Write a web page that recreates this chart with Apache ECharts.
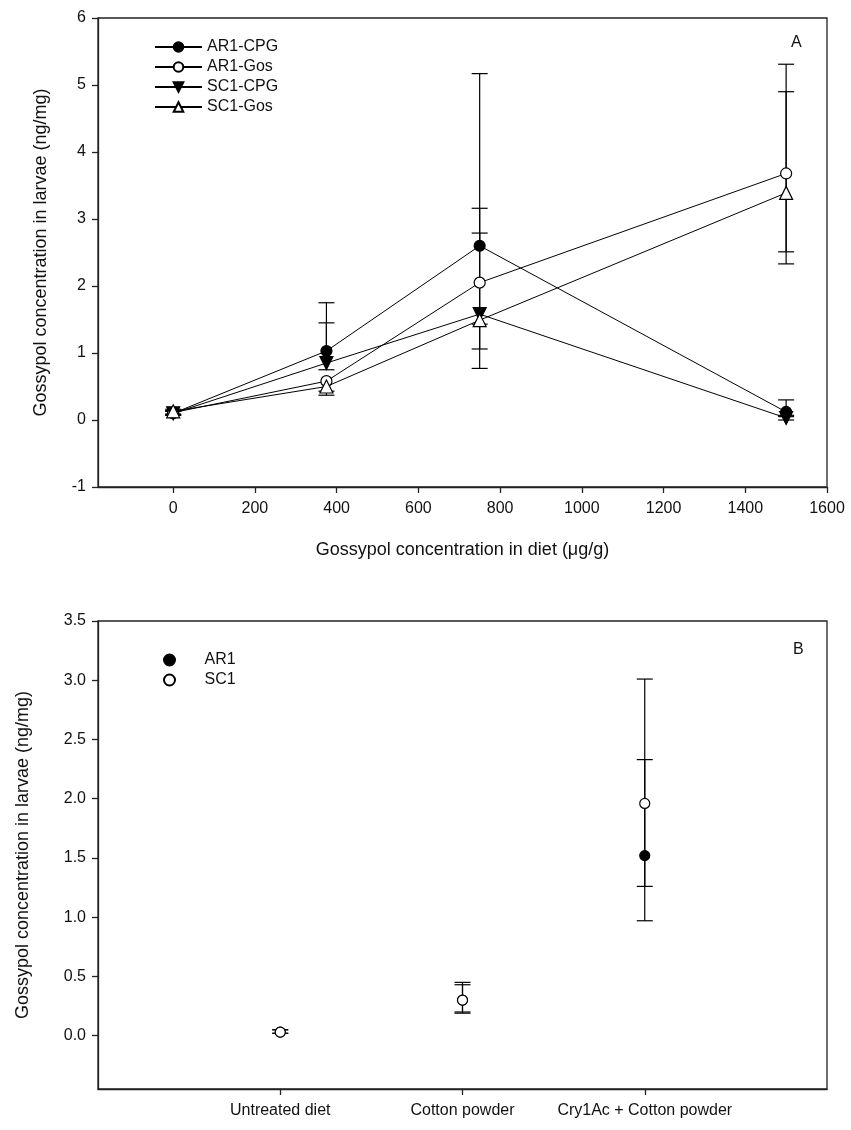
<!DOCTYPE html>
<html>
<head>
<meta charset="utf-8">
<script src="https://cdn.jsdelivr.net/npm/echarts@6/dist/echarts.min.js"></script>
<style>
  html, body { margin: 0; padding: 0; background: #fff; }
  #chart { width: 851px; height: 1130px; }
</style>
</head>
<body>
<div id="chart"></div>
<script>
// Panel A: gossypol in diet (µg/g) vs gossypol in larvae (ng/mg)
const dietX = [0, 375, 750, 1500];
const ar1Cpg = [0.10, 1.03, 2.60, 0.12];
const ar1Gos = [0.11, 0.58, 2.05, 3.68];
const sc1Cpg = [0.10, 0.85, 1.58, 0.03];
const sc1Gos = [0.13, 0.50, 1.49, 3.39];
// lower / upper ends of the error bars
const ar1CpgLow  = [0.07, 0.75, 2.60, 0.05];
const ar1CpgHigh = [0.13, 1.75, 5.17, 0.30];
const ar1GosLow  = [0.08, 0.43, 1.06, 2.51];
const ar1GosHigh = [0.14, 0.58, 3.16, 4.90];
const sc1CpgLow  = [0.07, 0.85, 1.43, 0.00];
const sc1CpgHigh = [0.13, 1.45, 2.79, 0.07];
const sc1GosLow  = [0.09, 0.37, 0.77, 2.33];
const sc1GosHigh = [0.16, 0.50, 1.49, 5.31];
const xTicksA = [0, 200, 400, 600, 800, 1000, 1200, 1400, 1600];

// Panel B: diet treatments
const treatments = ['Untreated diet', 'Cotton powder', 'Cry1Ac + Cotton powder'];
const treatPos = [1, 2, 3];
const ar1B = [0.03, 0.30, 1.52];
const sc1B = [0.03, 0.30, 1.96];
const ar1BLow  = [0.02, 0.20, 1.26];
const ar1BHigh = [0.05, 0.43, 2.33];
const sc1BLow  = [0.02, 0.19, 0.97];
const sc1BHigh = [0.05, 0.45, 3.01];
const yTicksB = [0, 0.5, 1, 1.5, 2, 2.5, 3, 3.5];

const FONT = 'Liberation Sans, Arial, sans-serif';
const INK = '#000';
const AXIS = '#222';

function errRows(xs, ys, lo, hi) {
  return xs.map((x, i) => [x, ys[i], lo[i], hi[i]]);
}

function errorBarRender(params, api) {
  const x = api.value(0), y = api.value(1), lo = api.value(2), hi = api.value(3);
  const pLo = api.coord([x, lo]);
  const pHi = api.coord([x, hi]);
  const half = 8;
  const style = { stroke: INK, lineWidth: 1.2 };
  const children = [{
    type: 'line', shape: { x1: pLo[0], y1: pLo[1], x2: pHi[0], y2: pHi[1] }, style
  }];
  if (hi > y) children.push({ type: 'line', shape: { x1: pHi[0] - half, y1: pHi[1], x2: pHi[0] + half, y2: pHi[1] }, style });
  if (lo < y) children.push({ type: 'line', shape: { x1: pLo[0] - half, y1: pLo[1], x2: pLo[0] + half, y2: pLo[1] }, style });
  return { type: 'group', children };
}

function errSeries(name, xi, yi, rows) {
  return {
    name, type: 'custom', xAxisIndex: xi, yAxisIndex: yi, z: 1,
    renderItem: errorBarRender, data: rows, silent: true
  };
}

function lineSeries(name, ys, symbol, filled, rotate, size) {
  return {
    name, type: 'line', xAxisIndex: 0, yAxisIndex: 0, z: 3,
    data: dietX.map((x, i) => [x, ys[i]]),
    symbol, symbolSize: size, symbolRotate: rotate,
    showAllSymbol: true,
    lineStyle: { color: INK, width: 1 },
    itemStyle: { color: filled ? INK : '#fff', borderColor: INK, borderWidth: 1.2 },
    emphasis: { disabled: true }
  };
}

function scatterSeries(name, ys, filled) {
  return {
    name, type: 'scatter', xAxisIndex: 1, yAxisIndex: 1, z: 3,
    data: treatPos.map((x, i) => [x, ys[i]]),
    symbol: 'circle', symbolSize: 10,
    itemStyle: { color: filled ? INK : '#fff', borderColor: INK, borderWidth: 1.2, opacity: 1 },
    emphasis: { disabled: true }
  };
}

const axisLine = { show: true, onZero: false, lineStyle: { color: AXIS, width: 1.3 } };
const axisTick = { show: true, inside: false, length: 6, lineStyle: { color: AXIS, width: 1.3 } };
const labelStyle = { color: '#111', fontFamily: FONT, fontSize: 16 };
const nameStyle = { color: '#111', fontFamily: FONT, fontSize: 18 };

const chart = echarts.init(document.getElementById('chart'), null, { renderer: 'canvas' });

chart.setOption({
  animation: false,
  backgroundColor: '#fff',
  grid: [
    { left: 98, top: 18, width: 729, height: 469, show: true, borderColor: AXIS, borderWidth: 1.3, backgroundColor: 'transparent' },
    { left: 98, top: 621, width: 729, height: 468, show: true, borderColor: AXIS, borderWidth: 1.3, backgroundColor: 'transparent' }
  ],
  xAxis: [
    {
      type: 'value', gridIndex: 0, min: -184, max: 1600,
      splitLine: { show: false }, axisLine,
      axisTick: Object.assign({ customValues: xTicksA }, axisTick),
      axisLabel: Object.assign({ customValues: xTicksA, margin: 14, formatter: v => String(v) }, labelStyle),
      name: 'Gossypol concentration in diet (\u03bcg/g)', nameLocation: 'middle', nameGap: 54, nameTextStyle: nameStyle
    },
    {
      type: 'value', gridIndex: 1, min: 0, max: 4,
      splitLine: { show: false }, axisLine,
      axisTick: Object.assign({ customValues: treatPos }, axisTick),
      axisLabel: Object.assign({
        customValues: treatPos, margin: 14,
        formatter: v => treatments[treatPos.indexOf(v)] || ''
      }, labelStyle)
    }
  ],
  yAxis: [
    {
      type: 'value', gridIndex: 0, min: -1, max: 6, interval: 1,
      splitLine: { show: false }, axisLine, axisTick,
      axisLabel: Object.assign({ margin: 12 }, labelStyle),
      name: 'Gossypol concentration in larvae (ng/mg)', nameLocation: 'middle', nameGap: 48, nameTextStyle: nameStyle
    },
    {
      type: 'value', gridIndex: 1, min: -0.45, max: 3.5,
      splitLine: { show: false }, axisLine,
      axisTick: Object.assign({ customValues: yTicksB }, axisTick),
      axisLabel: Object.assign({
        customValues: yTicksB, margin: 12,
        formatter: v => v.toFixed(1)
      }, labelStyle),
      name: 'Gossypol concentration in larvae (ng/mg)', nameLocation: 'middle', nameGap: 66, nameTextStyle: nameStyle
    }
  ],
  legend: [
    {
      orient: 'vertical', left: 149, top: 34, itemWidth: 47, itemHeight: 12, itemGap: 4,
      data: ['AR1-CPG', 'AR1-Gos', 'SC1-CPG', 'SC1-Gos'],
      textStyle: { color: '#111', fontFamily: FONT, fontSize: 16, padding: [0, 0, 0, 0] },
      selectedMode: false
    },
    {
      orient: 'vertical', left: 158, top: 647, itemWidth: 28, itemHeight: 11, itemGap: 4,
      data: ['AR1', 'SC1'],
      textStyle: { color: '#111', fontFamily: FONT, fontSize: 16, padding: [0, 0, 0, 16] },
      selectedMode: false
    }
  ],
  graphic: [
    { type: 'text', left: 791, top: 35, style: { text: 'A', font: '16px ' + FONT, fill: '#111' } },
    { type: 'text', left: 793, top: 642, style: { text: 'B', font: '16px ' + FONT, fill: '#111' } }
  ],
  series: [
    errSeries('errA1', 0, 0, errRows(dietX, ar1Cpg, ar1CpgLow, ar1CpgHigh)),
    errSeries('errA2', 0, 0, errRows(dietX, ar1Gos, ar1GosLow, ar1GosHigh)),
    errSeries('errA3', 0, 0, errRows(dietX, sc1Cpg, sc1CpgLow, sc1CpgHigh)),
    errSeries('errA4', 0, 0, errRows(dietX, sc1Gos, sc1GosLow, sc1GosHigh)),
    lineSeries('AR1-CPG', ar1Cpg, 'circle', true, 0, 11),
    lineSeries('AR1-Gos', ar1Gos, 'circle', false, 0, 11),
    lineSeries('SC1-CPG', sc1Cpg, 'triangle', true, 180, 13),
    lineSeries('SC1-Gos', sc1Gos, 'triangle', false, 0, 13),
    errSeries('errB1', 1, 1, errRows(treatPos, ar1B, ar1BLow, ar1BHigh)),
    errSeries('errB2', 1, 1, errRows(treatPos, sc1B, sc1BLow, sc1BHigh)),
    scatterSeries('AR1', ar1B, true),
    scatterSeries('SC1', sc1B, false)
  ]
});
</script>
</body>
</html>
